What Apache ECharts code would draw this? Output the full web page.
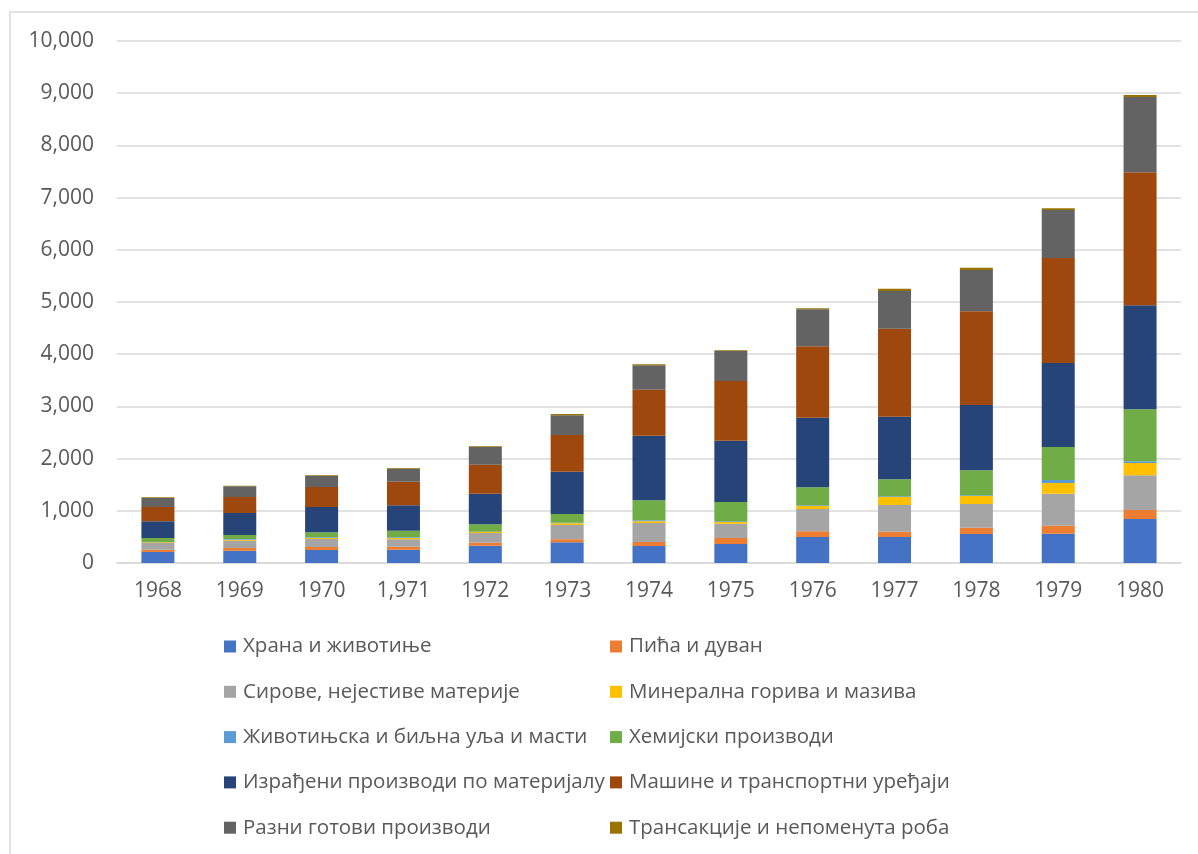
<!DOCTYPE html>
<html>
<head>
<meta charset="utf-8">
<script src="https://cdn.jsdelivr.net/npm/echarts@6/dist/echarts.min.js"></script>
<style>
html,body{margin:0;padding:0;background:#fff;}
#chart{width:1198px;height:854px;}
</style>
</head>
<body>
<div id="chart"></div>
<script>
const years = ['1968','1969','1970','1,971','1972','1973','1974','1975','1976','1977','1978','1979','1980'];
const yTicks = [0,1000,2000,3000,4000,5000,6000,7000,8000,9000,10000];

const hrana       = [211,236,249,255,332,396,326,364,498,498,556,562,843];
const pica        = [44,51,58,58,58,57,76,115,109,102,121,153,172];
const sirove      = [128,141,153,140,185,275,364,275,427,511,453,613,664];
const mineralna   = [13,19,25,26,19,32,32,31,58,153,154,205,237];
const zivotinjska = [6,13,13,13,6,13,19,13,13,13,12,57,32];
const hemijski    = [77,76,89,127,141,166,384,371,345,326,479,632,996];
const izradjeni   = [319,422,486,486,587,811,1238,1175,1334,1200,1252,1609,1992];
const masine      = [275,306,383,453,556,702,882,1143,1367,1686,1794,2012,2548];
const razni       = [172,205,211,249,338,377,466,574,709,722,792,919,1443];
const transakcije = [13,12,12,13,13,25,19,13,19,44,45,32,39];

const seriesNames = [
  'Храна и животиње','Пића и дуван','Сирове, нејестиве материје','Минерална горива и мазива',
  'Животињска и биљна уља и масти','Хемијски производи','Израђени производи по материјалу',
  'Машине и транспортни уређаји','Разни готови производи','Трансакције и непоменута роба'
];
const seriesData = [hrana,pica,sirove,mineralna,zivotinjska,hemijski,izradjeni,masine,razni,transakcije];
const colors = ['#4472C4','#ED7D31','#A5A5A5','#FFC000','#5B9BD5','#70AD47','#264478','#9E480E','#636363','#997300'];

const FONT = '"Open Sans", "Noto Sans", sans-serif';
const chart = echarts.init(document.getElementById('chart'), null, {renderer:'canvas'});
const legendText = {fontFamily: FONT, fontSize: 20.5, color: '#595959', padding: [0,0,0,2]};
chart.setOption({
  animation: false,
  color: colors,
  textStyle: {fontFamily: FONT},
  graphic: [{
    type: 'rect', silent: true,
    shape: {x: 10, y: 12, width: 1200, height: 870},
    style: {fill: 'none', stroke: '#d9d9d9', lineWidth: 1.5}
  }],
  grid: {left: 117, right: 17, top: 41, bottom: 291, containLabel: false},
  legend: [
    {
      data: [seriesNames[0], seriesNames[2], seriesNames[4], seriesNames[6], seriesNames[8]],
      orient: 'vertical', left: 224, top: 636, padding: 0, itemWidth: 12, itemHeight: 12, itemGap: 24.3,
      icon: 'rect', textStyle: legendText, selectedMode: false
    },
    {
      data: [seriesNames[1], seriesNames[3], seriesNames[5], seriesNames[7], seriesNames[9]],
      orient: 'vertical', left: 610, top: 636, padding: 0, itemWidth: 12, itemHeight: 12, itemGap: 24.3,
      icon: 'rect', textStyle: legendText, selectedMode: false
    }
  ],
  xAxis: {
    type: 'category', data: years,
    axisTick: {show: false},
    axisLine: {lineStyle: {color: '#d9d9d9', width: 1.5}},
    axisLabel: {color: '#595959', fontSize: 21, fontFamily: FONT, margin: 18}
  },
  yAxis: {
    type: 'value', min: yTicks[0], max: yTicks[yTicks.length-1], interval: 1000,
    axisLine: {show: false}, axisTick: {show: false},
    splitLine: {lineStyle: {color: '#d9d9d9', width: 1.5}},
    axisLabel: {color: '#595959', fontSize: 21, fontFamily: FONT, margin: 23,
      formatter: v => v.toLocaleString('en-US')}
  },
  series: seriesNames.map((n, i) => ({
    name: n, type: 'bar', stack: 'total', data: seriesData[i], barWidth: 33,
    itemStyle: {color: colors[i]}
  }))
});
</script>
</body>
</html>
